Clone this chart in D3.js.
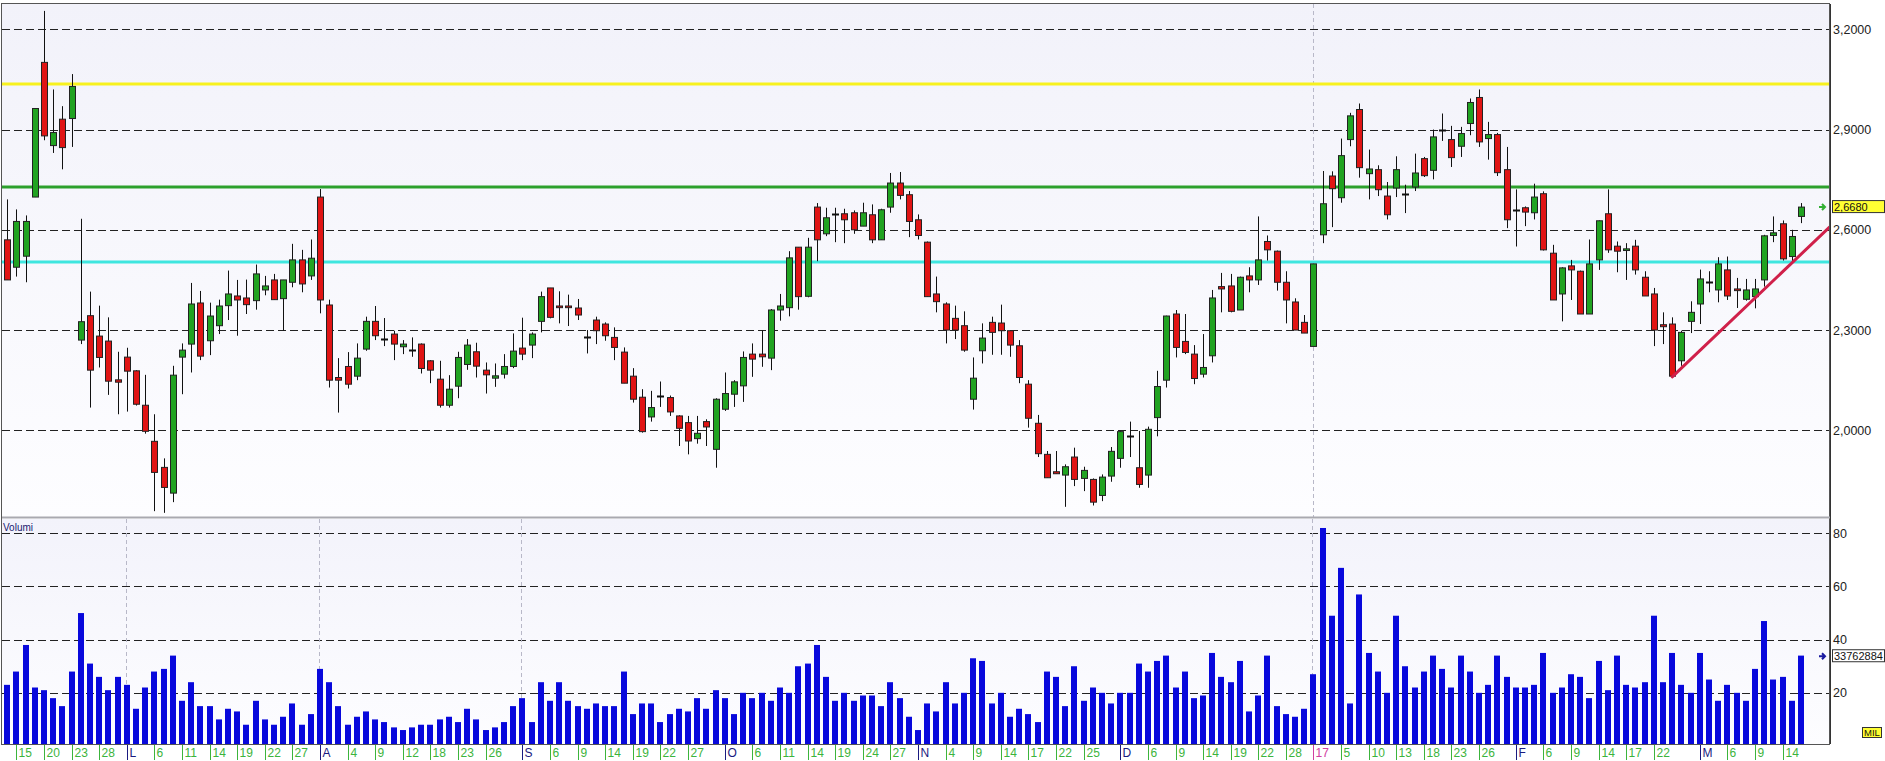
<!DOCTYPE html>
<html><head><meta charset="utf-8">
<script src="https://cdn.jsdelivr.net/npm/d3@7"></script>
<style>body{margin:0;background:#fff}svg{display:block}text{font-family:"Liberation Sans",Arial,sans-serif}</style>
</head><body><svg id="c" width="1885" height="761"></svg>
<script>
const opens=[2.570,2.488,2.521,2.698,3.101,2.852,2.931,2.933,2.270,2.343,
2.282,2.267,2.151,2.219,2.178,2.075,1.967,1.889,1.812,2.219,
2.258,2.381,2.268,2.313,2.373,2.402,2.396,2.388,2.420,2.450,
2.394,2.443,2.510,2.462,2.698,2.375,2.158,2.191,2.162,2.243,
2.326,2.272,2.288,2.250,2.240,2.258,2.208,2.153,2.075,2.132,
2.197,2.235,2.180,2.156,2.168,2.191,2.246,2.255,2.326,2.426,
2.372,2.372,2.366,2.278,2.330,2.318,2.278,2.234,2.162,2.099,
2.040,2.104,2.098,2.043,2.023,1.975,2.026,1.943,2.063,2.108,
2.133,2.228,2.228,2.216,2.360,2.367,2.548,2.401,2.668,2.588,
2.647,2.648,2.651,2.611,2.645,2.570,2.668,2.740,2.705,2.630,
2.563,2.408,2.378,2.335,2.313,2.093,2.238,2.323,2.321,2.298,
2.253,2.138,2.021,1.928,1.876,1.866,1.920,1.856,1.853,1.805,
1.863,1.916,1.983,1.888,1.866,2.038,2.150,2.348,2.266,2.228,
2.168,2.223,2.430,2.432,2.360,2.462,2.450,2.565,2.536,2.443,
2.384,2.323,2.251,2.585,2.761,2.696,2.870,2.960,2.768,2.780,
2.701,2.725,2.706,2.728,2.813,2.778,2.898,2.870,2.850,2.918,
2.996,2.873,2.885,2.780,2.660,2.666,2.651,2.708,2.530,2.408,
2.492,2.476,2.348,2.510,2.648,2.551,2.538,2.551,2.458,2.408,
2.316,2.318,2.208,2.326,2.378,2.445,2.420,2.480,2.423,2.392,
2.400,2.450,2.583,2.618,2.520,2.640];
const highs=[2.691,2.661,2.643,2.963,3.255,3.020,2.970,3.066,2.633,2.415,
2.373,2.338,2.235,2.247,2.180,2.166,2.048,1.916,2.193,2.260,
2.441,2.417,2.382,2.391,2.478,2.450,2.451,2.496,2.462,2.468,
2.450,2.558,2.540,2.571,2.722,2.391,2.216,2.234,2.260,2.340,
2.372,2.336,2.298,2.270,2.278,2.260,2.210,2.208,2.165,2.235,
2.273,2.262,2.203,2.200,2.228,2.290,2.337,2.293,2.415,2.426,
2.416,2.406,2.393,2.300,2.340,2.323,2.308,2.248,2.186,2.123,
2.118,2.146,2.104,2.045,2.043,2.043,2.033,2.096,2.173,2.150,
2.236,2.260,2.300,2.363,2.408,2.536,2.548,2.576,2.680,2.666,
2.666,2.663,2.658,2.681,2.676,2.663,2.770,2.773,2.716,2.646,
2.565,2.460,2.383,2.373,2.356,2.218,2.320,2.340,2.376,2.300,
2.270,2.150,2.046,1.938,1.938,1.898,1.948,1.891,1.856,1.868,
1.950,1.998,2.026,1.998,2.011,2.178,2.343,2.360,2.348,2.255,
2.288,2.420,2.471,2.468,2.460,2.488,2.640,2.583,2.538,2.476,
2.395,2.345,2.498,2.776,2.775,2.873,2.950,2.978,2.840,2.793,
2.743,2.820,2.735,2.828,2.818,2.900,2.948,2.911,2.908,2.993,
3.020,2.923,2.890,2.848,2.721,2.670,2.738,2.715,2.555,2.488,
2.510,2.478,2.571,2.628,2.721,2.565,2.560,2.570,2.476,2.426,
2.353,2.338,2.298,2.386,2.481,2.476,2.518,2.520,2.456,2.453,
2.453,2.585,2.640,2.628,2.600,2.680];
const lows=[2.450,2.460,2.443,2.698,2.868,2.830,2.781,2.848,2.258,2.068,
2.188,2.106,2.048,2.056,2.074,1.990,1.758,1.753,1.785,2.108,
2.173,2.210,2.225,2.288,2.330,2.283,2.348,2.361,2.404,2.391,
2.298,2.428,2.413,2.450,2.350,2.128,2.053,2.125,2.150,2.238,
2.270,2.252,2.210,2.228,2.220,2.170,2.141,2.068,2.068,2.096,
2.181,2.158,2.110,2.130,2.155,2.186,2.210,2.216,2.293,2.335,
2.320,2.312,2.330,2.230,2.258,2.268,2.210,2.141,2.083,1.993,
2.026,2.070,2.043,1.953,1.928,1.960,1.953,1.888,2.058,2.070,
2.085,2.160,2.190,2.180,2.328,2.341,2.361,2.398,2.506,2.581,
2.563,2.560,2.588,2.611,2.560,2.570,2.651,2.691,2.578,2.571,
2.400,2.353,2.260,2.273,2.235,2.062,2.200,2.226,2.226,2.220,
2.141,2.008,1.920,1.858,1.870,1.771,1.833,1.818,1.775,1.788,
1.846,1.888,1.920,1.828,1.828,1.982,2.128,2.218,2.228,2.138,
2.158,2.203,2.353,2.353,2.360,2.413,2.435,2.508,2.418,2.320,
2.300,2.291,2.251,2.560,2.608,2.681,2.850,2.756,2.691,2.701,
2.631,2.698,2.650,2.716,2.758,2.751,2.866,2.788,2.818,2.883,
2.848,2.810,2.761,2.605,2.550,2.611,2.631,2.538,2.390,2.326,
2.390,2.348,2.348,2.480,2.531,2.473,2.450,2.466,2.402,2.252,
2.258,2.158,2.193,2.291,2.318,2.413,2.383,2.390,2.366,2.388,
2.365,2.430,2.563,2.508,2.503,2.620];
const closes=[2.450,2.625,2.625,2.963,2.881,2.891,2.846,3.029,2.325,2.180,
2.218,2.147,2.144,2.177,2.078,1.997,1.874,1.829,2.165,2.240,
2.378,2.222,2.342,2.372,2.408,2.390,2.376,2.468,2.432,2.391,
2.450,2.510,2.438,2.515,2.390,2.150,2.150,2.138,2.216,2.326,
2.283,2.272,2.258,2.258,2.240,2.185,2.180,2.075,2.123,2.218,
2.255,2.192,2.166,2.163,2.191,2.237,2.228,2.288,2.400,2.338,
2.367,2.367,2.345,2.278,2.298,2.283,2.248,2.141,2.093,1.996,
2.068,2.104,2.055,2.006,1.968,1.991,2.010,2.093,2.110,2.145,
2.218,2.213,2.220,2.360,2.372,2.516,2.400,2.548,2.570,2.636,
2.647,2.630,2.600,2.651,2.570,2.660,2.740,2.703,2.625,2.583,
2.400,2.385,2.300,2.300,2.240,2.156,2.276,2.293,2.298,2.255,
2.158,2.036,1.930,1.858,1.870,1.891,1.853,1.880,1.785,1.860,
1.937,1.996,1.983,1.838,2.003,2.131,2.342,2.248,2.233,2.155,
2.188,2.396,2.423,2.356,2.458,2.450,2.510,2.540,2.443,2.390,
2.300,2.291,2.498,2.678,2.723,2.822,2.941,2.786,2.782,2.720,
2.645,2.780,2.706,2.770,2.762,2.878,2.898,2.816,2.888,2.981,
2.863,2.885,2.771,2.630,2.660,2.653,2.698,2.540,2.390,2.486,
2.480,2.348,2.498,2.627,2.540,2.536,2.543,2.480,2.402,2.300,
2.310,2.162,2.293,2.353,2.453,2.445,2.498,2.402,2.418,2.420,
2.423,2.582,2.591,2.513,2.580,2.668];
const volumes=[23,28,38,22,21,18,15,28,50,31,26,21,26,23,14,22,28,29,34,17,24,15,15,10,14,13,8,17,10,8,11,16,8,12,29,24,15,8,11,13,
10,9,7,6,7,8,8,10,11,9,14,10,6,7,9,15,18,9,24,17,24,17,15,14,16,15,15,28,12,16,16,9,12,14,13,18,14,21,18,12,
20,18,20,17,22,20,30,31,38,26,17,20,17,19,19,15,24,18,11,6,16,13,24,16,20,33,32,16,20,11,14,12,9,28,26,15,30,17,22,20,
16,20,20,31,28,32,34,22,28,18,19,35,26,24,32,13,19,34,15,12,11,14,27,82,49,67,16,57,35,28,20,49,30,22,28,34,29,22,34,28,
20,23,34,26,22,22,23,35,20,22,27,26,18,32,21,34,23,22,24,49,24,35,23,20,35,25,17,23,20,17,29,47,25,26,17,34];
const tickIdx=[1,4,7,10,13,16,19,22,25,28,31,34,37,40,43,46,49,52,56,59,62,65,68,71,74,78,81,84,87,90,93,96,99,102,105,108,111,114,117,121,124,127,130,133,136,139,142,145,148,151,154,157,160,164,167,170,173,176,179,184,187,190,193];
const tickText=["15","20","23","28","L","6","11","14","19","22","27","A","4","9","12","18","23","26","S","6","9","14","19","22","27","O","6","11","14","19","24","27","N","4","9","14","17","22","25","D","6","9","14","19","22","28","17","5","10","13","18","23","26","F","6","9","14","17","22","M","6","9","14"];
const gridIdx=[13,34,56];
const yearIdx=142;
const priceTicks=[2.0,2.3,2.6,2.9,3.2];
const volTicks=[20,40,60,80];
const levelValues=[3.036,2.728,2.504];
const trendX=[181,198.1], trendY=[2.160,2.608];
const lastPrice=2.668, lastVolume=33762884;

const svg=d3.select("#c");
const L=2,R=1830,T=4,PB=517,VT=519,VB=744;
const x=d3.scaleLinear().domain([0,195]).range([7.3,1801]);
const yP=d3.scaleLinear().domain([2.0,3.2]).range([430.3,29.3]);
const yV=d3.scaleLinear().domain([0,80]).range([746,533.3]);
const px=i=>Math.round(x(i))+0.5;

const defs=svg.append("defs");
const g1=defs.append("linearGradient").attr("id","gp").attr("x1",0).attr("y1",0).attr("x2",0).attr("y2",1);
g1.append("stop").attr("offset","0%").attr("stop-color","#f2f2fa");
g1.append("stop").attr("offset","100%").attr("stop-color","#fdfdff");
const g2=defs.append("linearGradient").attr("id","gv").attr("x1",0).attr("y1",0).attr("x2",0).attr("y2",1);
g2.append("stop").attr("offset","0%").attr("stop-color","#f3f3fb");
g2.append("stop").attr("offset","100%").attr("stop-color","#fdfdff");
defs.append("clipPath").attr("id","cp").append("rect").attr("x",L).attr("y",T).attr("width",R-L).attr("height",PB-T);
defs.append("clipPath").attr("id","cv").append("rect").attr("x",L).attr("y",VT).attr("width",R-L).attr("height",VB-VT);

svg.append("rect").attr("x",L).attr("y",T).attr("width",R-L).attr("height",PB-T).attr("fill","url(#gp)");
svg.append("rect").attr("x",L).attr("y",VT).attr("width",R-L).attr("height",VB-VT).attr("fill","url(#gv)");

// price grid
const gp=svg.append("g").attr("clip-path","url(#cp)");
gp.selectAll("line.g").data(priceTicks).join("line")
 .attr("x1",L).attr("x2",R).attr("y1",d=>Math.round(yP(d))+0.5).attr("y2",d=>Math.round(yP(d))+0.5)
 .attr("stroke","#222").attr("stroke-dasharray","8,4");
gp.append("line").attr("x1",px(yearIdx)).attr("x2",px(yearIdx)).attr("y1",T).attr("y2",PB)
 .attr("stroke","#b8b8c8").attr("stroke-dasharray","4,3");
// level lines
const lvColors=["#f7f11e","#2ca02c","#3fe6df"];
gp.selectAll("line.lv").data(levelValues).join("line")
 .attr("x1",L).attr("x2",R).attr("y1",d=>yP(d)).attr("y2",d=>yP(d))
 .attr("stroke",(d,i)=>lvColors[i]).attr("stroke-width",3);

// candles
const idx=d3.range(opens.length);
const cg=gp.append("g");
cg.selectAll("line.w").data(idx).join("line")
 .attr("x1",px).attr("x2",px).attr("y1",i=>yP(highs[i])).attr("y2",i=>yP(lows[i]))
 .attr("stroke","#111").attr("stroke-width",1);
cg.selectAll("rect.b").data(idx.filter(i=>opens[i]!==closes[i])).join("rect")
 .attr("x",i=>px(i)-3).attr("width",6)
 .attr("y",i=>yP(Math.max(opens[i],closes[i])))
 .attr("height",i=>Math.max(1,Math.abs(yP(opens[i])-yP(closes[i]))))
 .attr("fill",i=>closes[i]>opens[i]?"#21a321":"#e01414")
 .attr("stroke","#222").attr("stroke-width",1);
cg.selectAll("line.d").data(idx.filter(i=>opens[i]===closes[i])).join("line")
 .attr("x1",i=>px(i)-3.5).attr("x2",i=>px(i)+3.5)
 .attr("y1",i=>Math.round(yP(opens[i]))+0.5).attr("y2",i=>Math.round(yP(opens[i]))+0.5)
 .attr("stroke","#111").attr("stroke-width",2);
// trend line
gp.append("line").attr("x1",x(trendX[0])).attr("x2",x(trendX[1])).attr("y1",yP(trendY[0])).attr("y2",yP(trendY[1]))
 .attr("stroke","#d0204a").attr("stroke-width",3).attr("stroke-linecap","round");

// volume panel
const gv=svg.append("g").attr("clip-path","url(#cv)");
gv.selectAll("line.g").data(volTicks).join("line")
 .attr("x1",L).attr("x2",R).attr("y1",d=>Math.round(yV(d))+0.5).attr("y2",d=>Math.round(yV(d))+0.5)
 .attr("stroke","#222").attr("stroke-dasharray","8,4");
gv.selectAll("line.m").data(gridIdx.concat([yearIdx])).join("line")
 .attr("x1",i=>px(i)-1).attr("x2",i=>px(i)-1).attr("y1",VT).attr("y2",VB)
 .attr("stroke","#b8b8c8").attr("stroke-dasharray","4,3");
gv.selectAll("rect.v").data(idx).join("rect")
 .attr("x",i=>Math.round(x(i))-3).attr("width",6)
 .attr("y",i=>yV(volumes[i])).attr("height",i=>yV(0)-yV(volumes[i]))
 .attr("fill","#0808dc");
svg.append("text").attr("x",3).attr("y",531).attr("font-size",10).attr("fill","#1a1a70").text("Volumi");

// borders
svg.append("rect").attr("x",L-0.5).attr("y",T-0.5).attr("width",R-L).attr("height",VB-T+1).attr("fill","none").attr("stroke","#555");
svg.append("line").attr("x1",L).attr("x2",R).attr("y1",PB+0.5).attr("y2",PB+0.5).attr("stroke","#a9a9b0").attr("stroke-width",2);
svg.append("line").attr("x1",R+0.5).attr("x2",R+0.5).attr("y1",T).attr("y2",VB).attr("stroke","#333");

// right axes
const fmt=d=>d.toFixed(4).replace(".",",");
const ap=svg.append("g").attr("transform",`translate(${R},0)`)
 .call(d3.axisRight(yP).tickValues(priceTicks).tickFormat(fmt).tickSize(0).tickPadding(3));
ap.select(".domain").remove();
ap.selectAll("text").attr("font-size",12.5).attr("fill","#222").attr("font-family","Liberation Sans, Arial");
const av=svg.append("g").attr("transform",`translate(${R},0)`)
 .call(d3.axisRight(yV).tickValues(volTicks).tickFormat(d3.format("d")).tickSize(0).tickPadding(3));
av.select(".domain").remove();
av.selectAll("text").attr("font-size",12.5).attr("fill","#222").attr("font-family","Liberation Sans, Arial");

// last price tag
const lp=yP(lastPrice);
svg.append("path").attr("d",`M1819,${lp}h6m-3,-3l3,3l-3,3`).attr("stroke","#33b033").attr("stroke-width",2).attr("fill","none");
svg.append("rect").attr("x",1832.5).attr("y",lp-6.5).attr("width",52).attr("height",12).attr("fill","#ffff33").attr("stroke","#333");
svg.append("text").attr("x",1834).attr("y",lp+4).attr("font-size",11).attr("fill","#111").text(fmt(lastPrice));
const lv=yV(lastVolume/1e6);
svg.append("path").attr("d",`M1819,${lv}h6m-3,-3l3,3l-3,3`).attr("stroke","#1a1aa0").attr("stroke-width",2).attr("fill","none");
svg.append("rect").attr("x",1832.5).attr("y",lv-6.5).attr("width",52).attr("height",12).attr("fill","#fff").attr("stroke","#333");
svg.append("text").attr("x",1834).attr("y",lv+4).attr("font-size",11).attr("fill","#111").text(lastVolume);
svg.append("rect").attr("x",1862.5).attr("y",727.5).attr("width",19).attr("height",10).attr("fill","#ffff33").attr("stroke","#333");
svg.append("text").attr("x",1864).attr("y",736).attr("font-size",9.5).attr("fill","#111").text("MIL");

// x tick labels
const kind=(t,i)=>tickIdx[i]===yearIdx?"y":(/[A-Z]/.test(t)?"m":"d");
const colr={d:"#3cb43c",m:"#1a1a80",y:"#d040a0"};
const xt=svg.append("g");
tickText.forEach((t,i)=>{
  const xx=px(tickIdx[i]);
  const c=colr[kind(t,i)];
  xt.append("line").attr("x1",xx).attr("x2",xx).attr("y1",745).attr("y2",760).attr("stroke",c);
  xt.append("text").attr("x",xx+2).attr("y",757).attr("font-size",12).attr("fill",c).text(t);
});
</script></body></html>
